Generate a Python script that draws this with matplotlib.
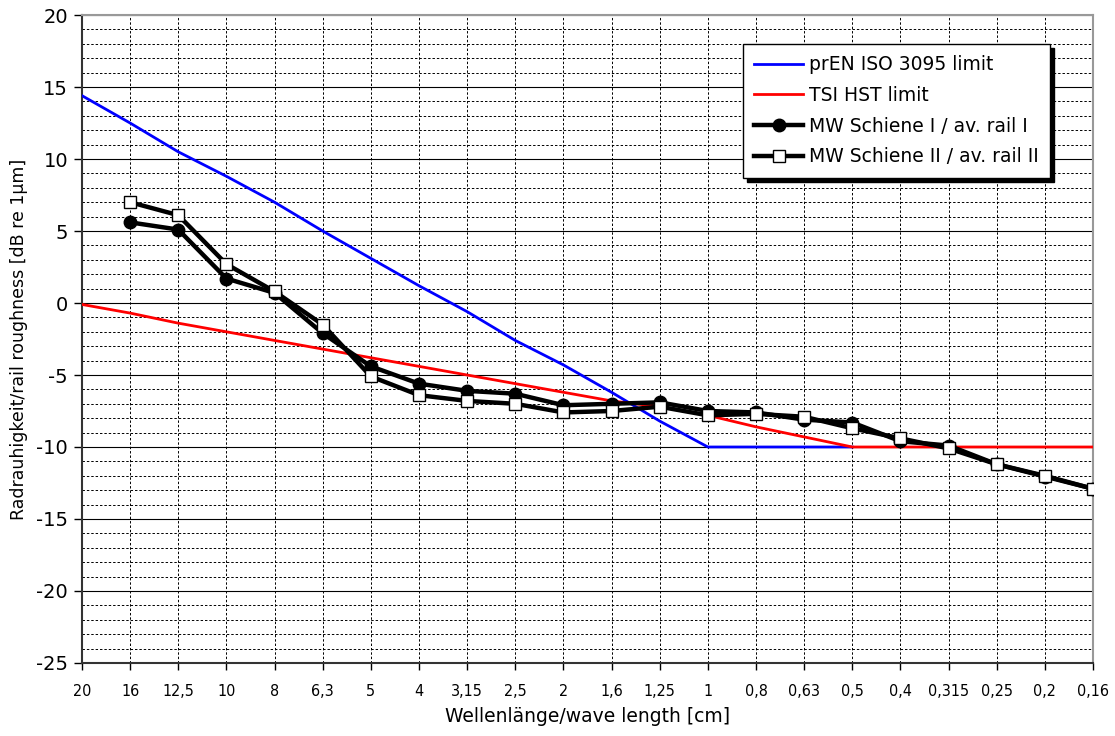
import matplotlib
matplotlib.use("Agg")
import matplotlib.pyplot as plt
import numpy as np

plt.rcParams["axes.unicode_minus"] = False

# wave length categories [cm]
wavelengths = ["20", "16", "12,5", "10", "8", "6,3", "5", "4", "3,15", "2,5", "2",
               "1,6", "1,25", "1", "0,8", "0,63", "0,5", "0,4", "0,315", "0,25", "0,2", "0,16"]

# limit curves (dB re 1um)
iso_3095 = [14.4, 12.5, 10.5, 8.8, 7.0, 5.0, 3.1, 1.2, -0.6, -2.6, -4.3,
            -6.2, -8.2, -10.0, -10.0, -10.0, -10.0]
tsi_hst = [-0.1, -0.7, -1.4, -2.0, -2.6, -3.2, -3.8, -4.4, -5.0, -5.6, -6.2,
           -6.8, -7.2, -7.8, -8.6, -9.3, -10.0, -10.0, -10.0, -10.0, -10.0, -10.0]

# measured averages, starting at 16 cm
rail_1 = [5.6, 5.1, 1.7, 0.7, -2.1, -4.4, -5.6, -6.1, -6.3, -7.1, -7.0,
          -6.9, -7.5, -7.6, -8.1, -8.3, -9.6, -9.9, -11.2, -12.05, -12.9]
rail_2 = [7.0, 6.1, 2.7, 0.8, -1.5, -5.1, -6.4, -6.8, -7.0, -7.6, -7.5,
          -7.2, -7.8, -7.7, -7.9, -8.7, -9.4, -10.1, -11.2, -12.0, -12.9]

x_all = np.arange(len(wavelengths))

fig = plt.figure(figsize=(11.15, 7.36), dpi=100)
ax = fig.add_axes([0.0735, 0.0992, 0.9068, 0.8804])

# grid
for y in range(-25, 21):
    if y % 5 == 0:
        ax.axhline(y, color="black", lw=0.8, zorder=1)
    else:
        ax.axhline(y, color="black", lw=0.7, ls=(0, (2.5, 2)), zorder=1)
for x in x_all[1:-1]:
    ax.axvline(x, color="black", lw=0.7, ls=(0, (2.5, 2)), zorder=1)

ax.plot(x_all[:len(iso_3095)], iso_3095, color="#0000ff", lw=2.0, label="prEN ISO 3095 limit", zorder=3)
ax.plot(x_all, tsi_hst, color="#ff0000", lw=2.0, label="TSI HST limit", zorder=3)
ax.plot(x_all[1:], rail_1, color="black", lw=3.2, marker="o", ms=9,
        mfc="black", mec="black", label="MW Schiene I / av. rail I", zorder=4)
ax.plot(x_all[1:], rail_2, color="black", lw=3.2, marker="s", ms=9,
        mfc="white", mec="black", mew=1.0, label="MW Schiene II / av. rail II", zorder=5)

ax.set_xlim(0, len(wavelengths) - 1)
ax.set_ylim(-25, 20)
ax.set_xticks(x_all)
ax.set_xticklabels(wavelengths, fontsize=11.5, fontstretch="condensed")
ax.set_yticks(np.arange(-25, 21, 5))
ax.tick_params(axis="y", labelsize=14, length=6, width=1, direction="out", pad=4)
ax.tick_params(axis="x", length=5, width=1, direction="out", pad=10)

ax.spines["left"].set_color("#333333")
ax.spines["left"].set_linewidth(1.5)
ax.spines["bottom"].set_color("#333333")
ax.spines["bottom"].set_linewidth(1.5)
ax.spines["top"].set_color("#999999")
ax.spines["top"].set_linewidth(1.5)
ax.spines["right"].set_color("#999999")
ax.spines["right"].set_linewidth(1.5)

ax.set_xlabel("Wellenlänge/wave length [cm]", fontsize=13.5, labelpad=6)
ax.set_ylabel("Radrauhigkeit/rail roughness [dB re 1µm]", fontsize=12.5, labelpad=6)

leg = ax.legend(loc="upper left", bbox_to_anchor=(0.654, 0.955), borderaxespad=0,
                fancybox=False, framealpha=1, edgecolor="black", fontsize=13.5,
                handlelength=2.6, handletextpad=0.3, labelspacing=0.62,
                borderpad=0.6, shadow={"color": "black", "alpha": 1.0, "ox": 3, "oy": -3})
leg.get_frame().set_linewidth(1.0)
leg.set_zorder(10)

fig.savefig("out.png", dpi=100)
